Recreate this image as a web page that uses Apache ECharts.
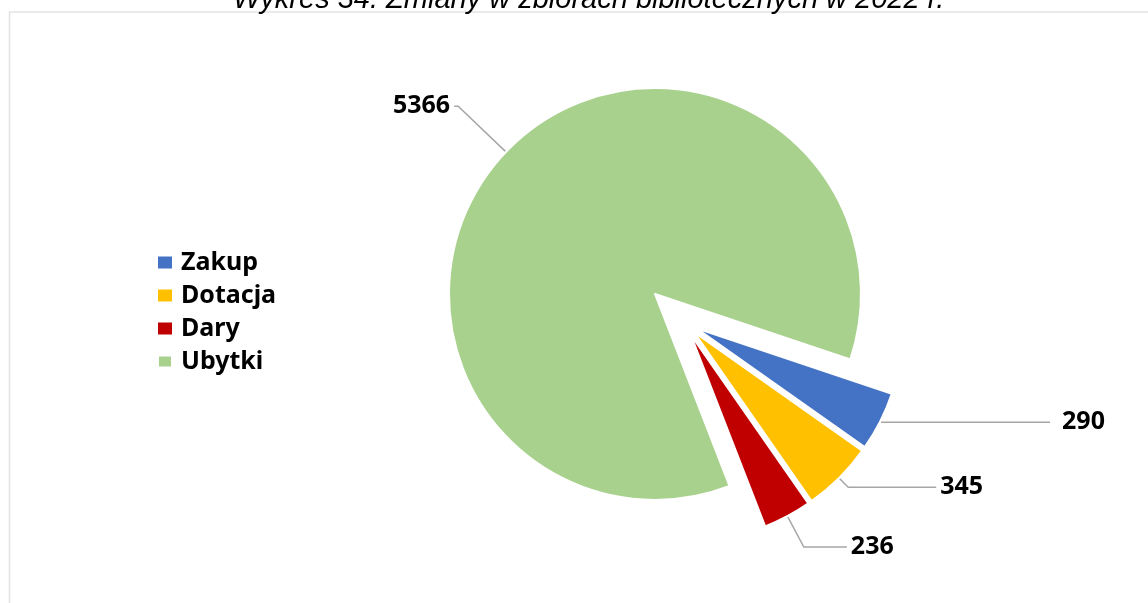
<!DOCTYPE html>
<html>
<head>
<meta charset="utf-8">
<script src="https://cdn.jsdelivr.net/npm/echarts@6/dist/echarts.min.js"></script>
<style>
  html, body { margin: 0; padding: 0; background: #fff; }
  #chart { width: 1148px; height: 603px; }
</style>
</head>
<body>
<div id="chart"></div>
<script>
// dane z wykresu
const categories = ['Zakup', 'Dotacja', 'Dary', 'Ubytki']
const values = [290, 345, 236, 5366]
const colors = ['#4472C4', '#FFC000', '#C00000', '#A9D18E']
// wysunięte kawałki (trzy małe, jako grupa)
const exploded = [true, true, true, false]
// długości linii odniesienia
const lineLen = [2, 13, 35, 66]
const lineLen2 = [168, 88, 43, 4]
const labelGap = [12, 4, 4, 4]

const chart = echarts.init(document.getElementById('chart'))

// seria: widoczne tylko wybrane kawałki, reszta przezroczysta
const makeData = (visible) => categories.map((name, i) => ({
  name: name,
  value: values[i],
  selected: visible[i] && exploded[i],
  itemStyle: visible[i] ? {color: colors[i]} : {color: 'rgba(0,0,0,0)', borderWidth: 0},
  label: {show: visible[i], distanceToLabelLine: labelGap[i]},
  labelLine: {show: visible[i], length: lineLen[i], length2: lineLen2[i]}
}))

const baseSeries = {
  type: 'pie',
  radius: 206,
  startAngle: 341.5,
  clockwise: true,
  avoidLabelOverlap: false,
  silent: true,
  itemStyle: {borderColor: '#fff', borderWidth: 2},
  emphasis: {disabled: true},
  label: {
    position: 'outside',
    formatter: '{c}',
    fontFamily: 'Noto Sans',
    fontWeight: 'bold',
    fontSize: 25,
    color: '#000'
  },
  labelLine: {
    lineStyle: {color: '#a6a6a6', width: 1.5}
  }
}

const option = {
  animation: false,
  title: {
    text: 'Wykres 34. Zmiany w zbiorach bibliotecznych w 2022 r.',
    left: 228,
    top: -20,
    textStyle: {
      fontFamily: 'Liberation Sans',
      fontStyle: 'italic',
      fontWeight: 'normal',
      fontSize: 29,
      color: '#000'
    }
  },
  graphic: [{
    type: 'rect',
    z: -10,
    shape: {x: 9.5, y: 12, width: 1200, height: 700},
    style: {fill: 'none', stroke: '#e3e3e3', lineWidth: 1.5}
  }],
  legend: {
    orient: 'vertical',
    left: 157,
    top: 250,
    padding: 0,
    itemWidth: 14,
    itemHeight: 12,
    itemGap: 8,
    icon: 'rect',
    selectedMode: false,
    data: categories.map((name, i) => ({name: name, itemStyle: {color: colors[i]}})),
    textStyle: {
      fontFamily: 'Noto Sans',
      fontWeight: 'bold',
      fontSize: 25,
      lineHeight: 24,
      color: '#000',
      padding: [0, 0, 0, 4]
    }
  },
  series: [
    Object.assign({}, baseSeries, {
      name: 'Ubytki',
      center: [655, 294],
      data: makeData([false, false, false, true])
    }),
    Object.assign({}, baseSeries, {
      name: 'Przybytki',
      center: [684, 322],
      selectedMode: 'multiple',
      selectedOffset: 14,
      data: makeData([true, true, true, false])
    })
  ]
}

chart.setOption(option)
</script>
</body>
</html>
